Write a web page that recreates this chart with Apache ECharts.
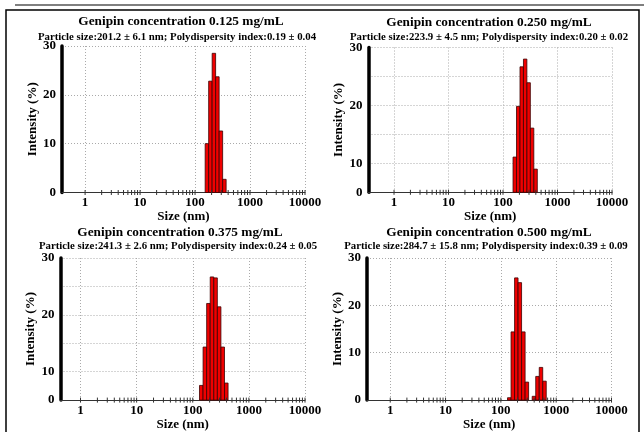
<!DOCTYPE html>
<html>
<head>
<meta charset="utf-8">
<script src="https://cdn.jsdelivr.net/npm/echarts@6/dist/echarts.min.js"></script>
<style>
    html, body { margin: 0; padding: 0; background: #fff; }
    #id-div-chart { width: 644px; height: 432px; }
</style>
</head>
<body>
<div id="id-div-chart"></div>
<script>
var log = console.log.bind(console)

// DLS size bins (nm) and intensity (%) for each concentration
var sizes1 = [164.2, 190.1, 220.2, 255.0, 295.3, 342.0]
var intensity1 = [10.0, 22.8, 28.5, 23.7, 12.6, 2.7]

var sizes2 = [164.2, 190.1, 220.2, 255.0, 295.3, 342.0, 396.1]
var intensity2 = [7.3, 17.8, 26.0, 27.6, 22.7, 13.3, 4.8]

var sizes3 = [141.8, 164.2, 190.1, 220.2, 255.0, 295.3, 342.0, 396.1]
var intensity3 = [3.1, 11.2, 20.4, 26.0, 25.8, 19.7, 11.2, 3.6]

var sizes4 = [141.8, 164.2, 190.1, 220.2, 255.0, 295.3, 342.0, 396.1, 458.7, 531.2, 615.1]
var intensity4 = [0.5, 14.4, 25.8, 24.8, 14.4, 3.8, 0, 0.8, 5.0, 6.9, 4.0]

var titles = [
    'Genipin concentration 0.125 mg/mL',
    'Genipin concentration 0.250 mg/mL',
    'Genipin concentration 0.375 mg/mL',
    'Genipin concentration 0.500 mg/mL',
]
var subtitles = [
    'Particle size:201.2 \u00b1 6.1 nm; Polydispersity index:0.19 \u00b1 0.04',
    'Particle size:223.9 \u00b1 4.5 nm; Polydispersity index:0.20 \u00b1 0.02',
    'Particle size:241.3 \u00b1 2.6 nm; Polydispersity index:0.24 \u00b1 0.05',
    'Particle size:284.7 \u00b1 15.8 nm; Polydispersity index:0.39 \u00b1 0.09',
]

// x tick marks: 1..9 in every decade
var tickSteps = [1, 2, 3, 4, 5, 6, 7, 8, 9]
var decades = [1, 10, 100, 1000]

// y tick labels (panels 2 and 3 have their labels on every other gridline)
var yTicks10 = {0: '0', 10: '10', 20: '20', 30: '30'}
var yTicks6 = {0: '0', 6: '10', 18: '20', 30: '30'}

var font = 'Liberation Serif'
var halfBin = Math.pow(10, 0.0314)

var tickData = function() {
    var r = []
    for (var i = 0; i < decades.length; i++) {
        for (var j = 0; j < tickSteps.length; j++) {
            r.push([decades[i] * tickSteps[j], 0])
        }
    }
    r.push([10000, 0])
    return r
}

var pairs = function(xs, ys) {
    var r = []
    for (var i = 0; i < xs.length; i++) {
        r.push([xs[i], ys[i]])
    }
    return r
}

var panels = [
    {grid: {left: 62, top: 46, width: 243, height: 146.5}, min: 0.38, interval: 10, labels: yTicks10, data: pairs(sizes1, intensity1)},
    {grid: {left: 368.5, top: 47.5, width: 243.5, height: 144.8}, min: 0.34, interval: 6, labels: yTicks6, data: pairs(sizes2, intensity2)},
    {grid: {left: 60.5, top: 258, width: 244.5, height: 144.3}, min: 0.44, interval: 6, labels: yTicks6, data: pairs(sizes3, intensity3)},
    {grid: {left: 367, top: 258, width: 244.5, height: 144.3}, min: 0.38, interval: 10, labels: yTicks10, data: pairs(sizes4, intensity4)},
]

var labelStyle = {
    fontFamily: font,
    fontWeight: 'bold',
    fontSize: 13,
    color: '#000',
}

var renderBar = function(params, api) {
    var x = api.value(0)
    var v = api.value(1)
    if (v <= 0) {
        return null
    }
    var a = api.coord([x / halfBin, v])
    var b = api.coord([x * halfBin, 0])
    return {
        type: 'rect',
        shape: {x: a[0], y: a[1], width: b[0] - a[0], height: b[1] - a[1]},
        style: {fill: '#f00000', stroke: '#3a0000', lineWidth: 0.8},
    }
}

var renderTick = function(params, api) {
    var p = api.coord([api.value(0), 0])
    return {
        type: 'line',
        shape: {x1: p[0], y1: p[1] - 2.5, x2: p[0], y2: p[1] + 2.5},
        style: {stroke: '#333', lineWidth: 1},
    }
}

var buildOption = function() {
    var grids = []
    var xAxes = []
    var yAxes = []
    var series = []
    var graphics = []
    var ticks = tickData()
    for (var i = 0; i < panels.length; i++) {
        var p = panels[i]
        grids.push(p.grid)
        xAxes.push({
            type: 'log',
            logBase: 10,
            gridIndex: i,
            min: p.min,
            max: 10000,
            name: 'Size (nm)',
            nameLocation: 'middle',
            nameGap: 15,
            nameTextStyle: labelStyle,
            axisLine: {onZero: false, lineStyle: {color: '#333', width: 1.2}},
            axisTick: {show: false},
            axisLabel: {
                showMinLabel: false,
                margin: 4,
                fontFamily: font,
                fontWeight: 'bold',
                fontSize: 13,
                color: '#000',
                formatter: function(v) {
                    return v >= 1 ? String(Math.round(v)) : ''
                },
            },
            splitLine: {show: true, lineStyle: {color: '#aaa', type: [1, 2], width: 1}},
        })
        var labels = p.labels
        yAxes.push({
            type: 'value',
            gridIndex: i,
            min: 0,
            max: 30,
            interval: p.interval,
            name: 'Intensity (%)',
            nameLocation: 'middle',
            nameGap: 18,
            nameTextStyle: labelStyle,
            axisLine: {show: true, onZero: false, lineStyle: {color: '#000', width: 3.5}},
            axisTick: {show: false},
            axisLabel: {
                margin: 6,
                fontFamily: font,
                fontWeight: 'bold',
                fontSize: 13,
                color: '#000',
                formatter: (function(m) {
                    return function(v) {
                        return m[v] !== undefined ? m[v] : ''
                    }
                })(labels),
            },
            splitLine: {show: true, lineStyle: {color: '#aaa', type: [1, 2], width: 1}},
        })
        series.push({
            type: 'custom',
            xAxisIndex: i,
            yAxisIndex: i,
            renderItem: renderBar,
            encode: {x: 0, y: 1},
            data: p.data,
            z: 3,
        })
        series.push({
            type: 'custom',
            xAxisIndex: i,
            yAxisIndex: i,
            renderItem: renderTick,
            encode: {x: 0, y: 1},
            data: ticks,
            clip: false,
            silent: true,
            z: 4,
        })
    }

    var titlePos = [
        [181, 22, 177, 37],
        [489, 23, 489, 37],
        [180, 233, 178, 246],
        [489, 233, 486, 246],
    ]
    for (var k = 0; k < titlePos.length; k++) {
        var t = titlePos[k]
        graphics.push({
            type: 'text', x: t[0], y: t[1], z: 50,
            style: {text: titles[k], fill: '#000', font: 'bold 13.3px "' + font + '"', textAlign: 'center', textVerticalAlign: 'middle'},
        })
        graphics.push({
            type: 'text', x: t[2], y: t[3], z: 50,
            style: {text: subtitles[k], fill: '#000', font: 'bold 10.8px "' + font + '"', textAlign: 'center', textVerticalAlign: 'middle'},
        })
    }
    // page frame
    graphics.push({type: 'line', z: 60, shape: {x1: 15, y1: 5, x2: 644, y2: 5}, style: {stroke: '#000', lineWidth: 1.2}})
    graphics.push({type: 'rect', z: 60, shape: {x: 6, y: 10, width: 633, height: 440}, style: {fill: null, stroke: '#000', lineWidth: 1.5}})
    // right panel overlaps the end of the left panel's last label
    graphics.push({type: 'rect', z: 55, shape: {x: 321.5, y: 195, width: 12, height: 14}, style: {fill: '#fff'}})

    return {
        backgroundColor: '#fff',
        animation: false,
        grid: grids,
        xAxis: xAxes,
        yAxis: yAxes,
        series: series,
        graphic: graphics,
    }
}

var __main = function() {
    var chart = echarts.init(document.querySelector('#id-div-chart'))
    chart.setOption(buildOption())
}

__main()
</script>
</body>
</html>
